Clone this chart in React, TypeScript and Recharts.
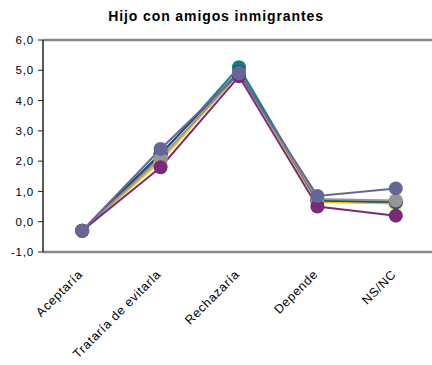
import { LineChart, Line, XAxis, YAxis, ReferenceLine } from "recharts"

const categories = ["Aceptaría", "Trataría de evitarla", "Rechazaría", "Depende", "NS/NC"]
const yellow = [-0.3, 2.0, 4.9, 0.65, 0.6]
const teal = [-0.3, 2.2, 5.1, 0.7, 0.65]
const navy = [-0.3, 2.25, 4.95, 0.7, 0.65]
const gray = [-0.3, 2.1, 4.9, 0.75, 0.7]
const purple = [-0.3, 1.8, 4.8, 0.5, 0.2]
const slate = [-0.3, 2.4, 4.9, 0.85, 1.1]
const yTicks = [-1, 0, 1, 2, 3, 4, 5, 6]

const series = [
  { key: "s1", values: yellow, color: "#f2c500" },
  { key: "s2", values: teal, color: "#0f7f7f" },
  { key: "s3", values: navy, color: "#2a4a78" },
  { key: "s4", values: gray, color: "#969696" },
  { key: "s5", values: purple, color: "#7a2a78" },
  { key: "s6", values: slate, color: "#666699" },
]

const data = categories.map((c, i) => {
  const row: Record<string, any> = { name: c }
  series.forEach(s => { row[s.key] = s.values[i] })
  return row
})

const font = "'Liberation Sans', Arial, sans-serif"

function XTick({ x, y, payload }: any) {
  return (
    <g transform={`translate(${x - 5},${y + 9})`}>
      <text x={0} y={0} dy="0.7em" textAnchor="end" transform="rotate(-45)" fontSize={12.5} letterSpacing={0.7} fill="#000" fontFamily={font}>
        {payload.value}
      </text>
    </g>
  )
}

export default function App() {
  return (
    <div style={{ position: "absolute", left: 0, top: 0, width: 432, height: 365, overflow: "hidden", background: "#fff" }}>
      <div style={{ position: "absolute", top: 8, width: 432, textAlign: "center", fontFamily: font, fontWeight: "bold", fontSize: 14, letterSpacing: 0.9 }}>
        Hijo con amigos inmigrantes
      </div>
      <LineChart width={440} height={365} data={data} margin={{ top: 40, right: 5, bottom: 13, left: 0 }}>
        <XAxis
          dataKey="name"
          scale="band"
          interval={0}
          height={100}
          tick={<XTick />}
          tickLine={false}
          axisLine={{ stroke: "#888", strokeWidth: 2.5 }}
        />
        <YAxis
          domain={[-1, 6]}
          ticks={yTicks}
          width={43}
          interval={0}
          tickFormatter={(v: number) => v.toFixed(1).replace(".", ",")}
          tick={{ fontSize: 11.5, fill: "#000", fontFamily: font, letterSpacing: 0.8, dx: -2 }}
          tickSize={5}
          tickLine={{ stroke: "#222" }}
          axisLine={{ stroke: "#222", strokeWidth: 1.5 }}
        />
        <ReferenceLine y={6} stroke="#888" strokeWidth={2.5} />
        {series.map(s => (
          <Line
            key={s.key}
            dataKey={s.key}
            type="linear"
            stroke={s.color}
            strokeWidth={2}
            dot={{ r: 7, fill: s.color, stroke: "none" }}
            activeDot={false}
            isAnimationActive={false}
          />
        ))}
      </LineChart>
    </div>
  )
}
